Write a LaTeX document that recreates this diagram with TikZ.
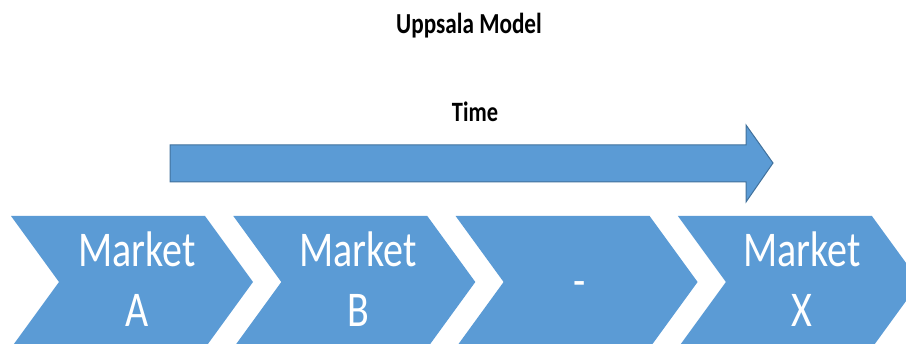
\documentclass[tikz,border=0pt]{standalone}
\usepackage{fontspec}
\setmainfont{Carlito}
\usepackage{graphicx}
\definecolor{chevblue}{HTML}{5B9BD5}
\definecolor{chevedge}{HTML}{41719C}
\tikzset{
  chevron/.style={fill=chevblue, draw=none},
  timearrow/.style={fill=chevblue, draw=chevedge, line width=1pt, line join=miter},
  heading/.style={anchor=base, inner sep=0pt, font=\bfseries\fontsize{29}{34}\selectfont},
  marketlabel/.style={anchor=base, inner sep=0pt, text=white, align=center, font=\fontsize{50}{60}\selectfont},
}
\newcommand{\narrow}[1]{\scalebox{0.8}[1]{#1}}
\begin{document}
\begin{tikzpicture}[x=1pt, y=-1pt]
  \useasboundingbox (0,0) rectangle (906,344);
  \clip (0,0) rectangle (906,344);

  % title and time label
  \node[heading] (title) at (469,34) {\narrow{Uppsala Model}};
  \node[heading, font=\bfseries\fontsize{28}{34}\selectfont] (time) at (475,122) {\narrow{Time}};

  % time arrow
  \draw[timearrow] (170,145) -- (746,145) -- (746,125) -- (773,163)
        -- (746,202) -- (746,182) -- (170,182) -- cycle;

  % chevron process steps
  \foreach \i in {0,1,2,3} {
    \pgfmathsetmacro{\xl}{11+222.3*\i}
    \fill[chevron] (\xl,216) -- ({\xl+194},216) -- ({\xl+242},282)
         -- ({\xl+194},348) -- (\xl,348) -- ({\xl+48},282) -- cycle;
  }

  % step labels
  \node[marketlabel] (ma1) at (137,267) {\narrow{Market}};
  \node[marketlabel] (ma2) at (137,327) {\narrow{A}};
  \node[marketlabel] (mb1) at (358,267) {\narrow{Market}};
  \node[marketlabel] (mb2) at (358,327) {\narrow{B}};
  \node[marketlabel] (mdash) at (580,298) {\narrow{-}};
  \node[marketlabel] (mx1) at (802,267) {\narrow{Market}};
  \node[marketlabel] (mx2) at (802,327) {\narrow{X}};
\end{tikzpicture}
\end{document}
